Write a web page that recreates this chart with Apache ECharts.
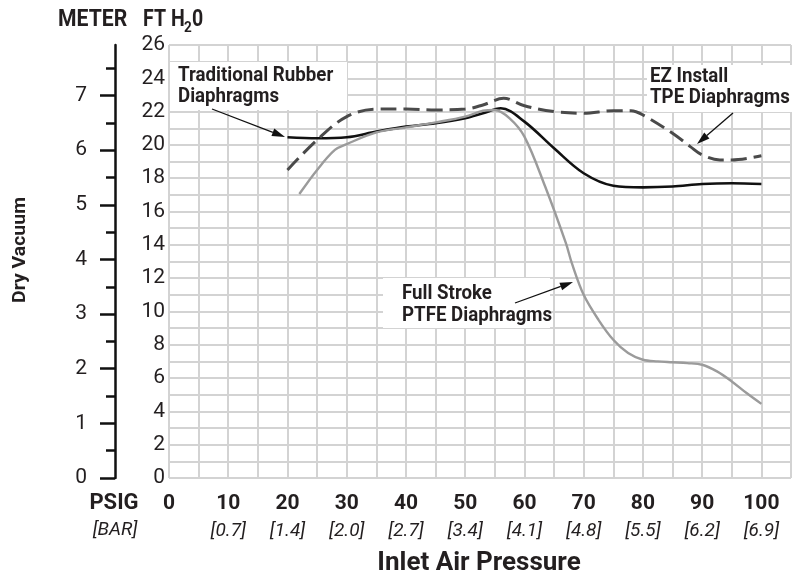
<!DOCTYPE html>
<html><head><meta charset="utf-8">
<script src="https://cdn.jsdelivr.net/npm/echarts@6/dist/echarts.min.js"></script>
<style>html,body{margin:0;padding:0;background:#fff}#c{width:794px;height:578px}</style>
</head><body><div id="c"></div>
<script>
// ---- tick labels ----
const psigTicks = [0, 10, 20, 30, 40, 50, 60, 70, 80, 90, 100];
const barLabels = ['', '[0.7]', '[1.4]', '[2.0]', '[2.7]', '[3.4]', '[4.1]', '[4.8]', '[5.5]', '[6.2]', '[6.9]'];
const ftTicks = [0, 2, 4, 6, 8, 10, 12, 14, 16, 18, 20, 22, 24, 26];
const meterTicks = [0, 1, 2, 3, 4, 5, 6, 7];
const meterMinorTicks = [0.5, 1.5, 2.5, 3.5, 4.5, 5.5, 6.5, 7.5];

// ---- series (x = PSIG, y = FT H2O) ----
const rubberPsig = [20, 25, 30, 35, 40, 45, 50, 53, 56, 60, 65, 70, 75, 80, 85, 90, 95, 100];
const rubberFt   = [20.46, 20.4, 20.46, 20.8, 21.1, 21.3, 21.6, 21.9, 22.2, 21.4, 19.8, 18.3, 17.55, 17.45, 17.5, 17.65, 17.7, 17.65];

const ezPsig = [20, 25, 30, 35, 40, 45, 50, 53, 56.5, 60, 65, 70, 75, 78, 80, 85, 88, 90, 93, 95, 100];
const ezFt   = [18.5, 20.3, 21.7, 22.15, 22.15, 22.1, 22.15, 22.4, 22.8, 22.35, 22.0, 21.9, 22.05, 22.05, 21.8, 20.7, 19.9, 19.4, 19.1, 19.1, 19.35];

const ptfePsig = [22, 25, 28, 30, 35, 40, 45, 50, 53, 55, 57.5, 60, 63.5, 67, 68, 70, 72.5, 75, 77.5, 80, 82.5, 85, 87.5, 90, 92.5, 95, 97.5, 100];
const ptfeFt   = [17.05, 18.5, 19.7, 20.05, 20.75, 21.05, 21.35, 21.7, 22.05, 22.1, 21.6, 20.5, 17.5, 14.1, 12.9, 11.0, 9.5, 8.3, 7.5, 7.1, 7.0, 6.95, 6.9, 6.8, 6.4, 5.8, 5.1, 4.45];

const FT_PER_M = 3.28084;
const FONT = 'Roboto, "Liberation Sans", sans-serif';
const INK = '#231f20';
const GRIDC = '#d3d3d3';

function pairs(xs, ys) { return xs.map((x, i) => [x, ys[i]]); }

function arrow(x1, y1, x2, y2) {
  const a = Math.atan2(y2 - y1, x2 - x1), L = 13, W = 4;
  const c = Math.cos(a), s = Math.sin(a);
  const bx = x2 - L * c, by = y2 - L * s;
  const px = -s * W, py = c * W;
  return [
    { type: 'line', z: 110, shape: { x1: x1, y1: y1, x2: bx, y2: by }, style: { stroke: '#111', lineWidth: 1.3 } },
    { type: 'polygon', z: 110, shape: { points: [[x2, y2], [bx + px, by + py], [bx - px, by - py]] }, style: { fill: '#111' } }
  ];
}
function txt(x, y, t, font, sx, extra) {
  return Object.assign({ type: 'text', z: 110, x: x, y: y, scaleX: sx || 1,
    style: Object.assign({ text: t, fill: INK, font: font, textVerticalAlign: 'middle' }, extra || {}) });
}
function box(x, y, w, h) {
  return { type: 'rect', z: 105, shape: { x: x, y: y, width: w, height: h }, style: { fill: '#fff' } };
}
const LBL = 'bold 21px ' + FONT;

const chart = echarts.init(document.getElementById('c'), null, { renderer: 'canvas' });
chart.setOption({
  animation: false,
  backgroundColor: '#fff',
  grid: { left: 169, right: 2, top: 45, bottom: 100, containLabel: false },
  xAxis: {
    type: 'value', min: 0, max: 105, interval: 5,
    axisLine: { show: false }, axisTick: { show: false },
    splitLine: { show: true, lineStyle: { color: GRIDC, width: 2 } },
    axisLabel: {
      margin: 12,
      formatter: function (v) {
        const i = psigTicks.indexOf(v);
        if (i < 0) return '';
        return '{a|' + v + '}\n{b|' + (barLabels[i] || ' ') + '}';
      },
      rich: {
        a: { fontFamily: FONT, fontWeight: 'bold', fontSize: 21, lineHeight: 28, color: INK },
        b: { fontFamily: FONT, fontStyle: 'italic', fontSize: 19, lineHeight: 27, color: INK }
      }
    }
  },
  yAxis: [
    {
      type: 'value', min: 0, max: 26, interval: 1, position: 'left',
      axisLine: { show: false }, axisTick: { show: false },
      splitLine: { show: true, lineStyle: { color: GRIDC, width: 2 } },
      axisLabel: {
        margin: 4, fontFamily: FONT, fontSize: 21, color: INK,
        formatter: function (v) { return ftTicks.indexOf(v) >= 0 ? String(v) : ''; }
      }
    },
    {
      type: 'value', min: 0, max: 26 / FT_PER_M, position: 'left', offset: 54,
      axisLine: { show: true, lineStyle: { color: '#111', width: 2.5 } },
      axisTick: { show: true, customValues: meterTicks, length: 15, lineStyle: { color: '#111', width: 2.5 } },
      axisLabel: { customValues: meterTicks, margin: 28, fontFamily: FONT, fontSize: 21, color: INK },
      splitLine: { show: false }
    },
    {
      type: 'value', min: 0, max: 26 / FT_PER_M, position: 'left', offset: 54,
      axisLine: { show: false },
      axisTick: { show: true, customValues: meterMinorTicks, length: 9, lineStyle: { color: '#111', width: 2.5 } },
      axisLabel: { show: false },
      splitLine: { show: false }
    }
  ],
  series: [
    { name: 'Traditional Rubber Diaphragms', type: 'line', smooth: 0.35, symbol: 'none', z: 3,
      lineStyle: { color: '#111', width: 2.6 }, data: pairs(rubberPsig, rubberFt) },
    { name: 'Full Stroke PTFE Diaphragms', type: 'line', smooth: 0.35, symbol: 'none', z: 4,
      lineStyle: { color: '#9b9b9b', width: 2.4 }, data: pairs(ptfePsig, ptfeFt) },
    { name: 'EZ Install TPE Diaphragms', type: 'line', smooth: 0.35, symbol: 'none', z: 5,
      lineStyle: { color: '#4a4a4a', width: 3, type: [16, 7] }, data: pairs(ezPsig, ezFt) }
  ],
  graphic: [].concat(
    [
      box(170, 62, 177, 48),
      txt(178, 76, 'Traditional Rubber', LBL, 0.89),
      txt(178, 97, 'Diaphragms', LBL, 0.89),
      box(647, 65, 147, 47),
      txt(650, 77, 'EZ Install', LBL, 0.89),
      txt(650, 98, 'TPE Diaphragms', LBL, 0.89),
      box(383, 278, 167, 50),
      txt(402, 294, 'Full Stroke', LBL, 0.89),
      txt(402, 316, 'PTFE Diaphragms', LBL, 0.89),
      txt(58, 20, 'METER', 'bold 23px ' + FONT, 0.92),
      txt(143, 20, 'FT H', 'bold 23px ' + FONT, 0.85),
      txt(184, 28, '2', 'bold 15px ' + FONT, 0.9),
      txt(192, 20, '0', 'bold 23px ' + FONT, 0.85),
      txt(114, 503, 'PSIG', 'bold 22px ' + FONT, 1, { textAlign: 'center' }),
      txt(115, 530, '[BAR]', 'italic 19px ' + FONT, 1, { textAlign: 'center' }),
      txt(479, 563, 'Inlet Air Pressure', 'bold 26px ' + FONT, 1, { textAlign: 'center' }),
      { type: 'text', z: 110, x: 20, y: 250, rotation: Math.PI / 2, scaleX: 1.08,
        style: { text: 'Dry Vacuum', fill: INK, font: 'bold 18px ' + FONT, textAlign: 'center', textVerticalAlign: 'middle' } }
    ],
    arrow(212, 109, 285, 137),
    arrow(733, 113, 697, 144),
    arrow(515, 303, 573, 282)
  )
});
</script></body></html>
